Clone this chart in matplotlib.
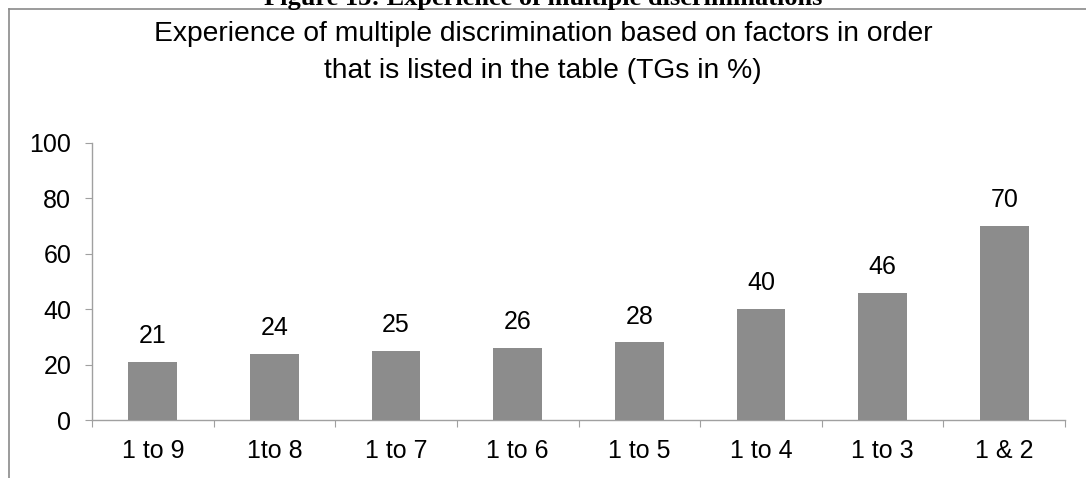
import matplotlib
matplotlib.use("Agg")
import matplotlib.pyplot as plt
from matplotlib.lines import Line2D

categories = ["1 to 9", "1to 8", "1 to 7", "1 to 6", "1 to 5", "1 to 4", "1 to 3", "1 & 2"]
values = [21, 24, 25, 26, 28, 40, 46, 70]
yticks = [0, 20, 40, 60, 80, 100]

plt.rcParams['font.family'] = ['Liberation Sans', 'DejaVu Sans']

W, H = 1086, 478
fig = plt.figure(figsize=(W / 100, H / 100), dpi=100)
ax = fig.add_axes([92 / W, 1 - 420 / H, (1065 - 92) / W, (420 - 143) / H])

x = list(range(len(categories)))
ax.bar(x, values, width=0.4, color="#8c8c8c", zorder=3)
for xi, v in zip(x, values):
    ax.annotate(str(v), (xi, v), xytext=(0, 10), textcoords="offset points",
                ha="center", va="bottom", fontsize=18, color="black")

ax.set_xlim(-0.5, len(categories) - 0.5)
ax.set_ylim(0, 100)
ax.set_yticks(yticks)
ax.set_xticks([i - 0.5 for i in range(len(categories) + 1)], minor=False)
ax.set_xticklabels([])
ax.set_xticks(x, minor=True)
ax.set_xticklabels(categories, minor=True, fontsize=18)
ax.tick_params(axis="x", which="minor", length=0, pad=14)
ax.tick_params(axis="x", which="major", length=5, color="#a0a0a0", direction="out")
ax.tick_params(axis="y", length=5, color="#a0a0a0", labelsize=18, pad=10)
for s in ["top", "right"]:
    ax.spines[s].set_visible(False)
for s in ["left", "bottom"]:
    ax.spines[s].set_color("#a0a0a0")
    ax.spines[s].set_linewidth(1.0)

fig.text(543 / W, 1 - 34 / H, "Experience of multiple discrimination based on factors in order",
         ha="center", va="center", fontsize=20.3)
fig.text(543 / W, 1 - 71 / H, "that is listed in the table (TGs in %)",
         ha="center", va="center", fontsize=20.3)

fig.text(543 / W, 1 - 5.5 / H, "Figure 13: Experience of multiple discriminations",
         ha="center", va="baseline", fontsize=19, fontweight="bold",
         family=["Liberation Serif", "DejaVu Serif"])

fig.add_artist(Line2D([9 / W, 9 / W], [0, 1 - 8.5 / H], transform=fig.transFigure,
                      color="#8a8a8a", linewidth=1.2))
fig.add_artist(Line2D([9 / W, 1], [1 - 8.5 / H, 1 - 8.5 / H], transform=fig.transFigure,
                      color="#8a8a8a", linewidth=1.2))

fig.savefig("out.png", dpi=100)
